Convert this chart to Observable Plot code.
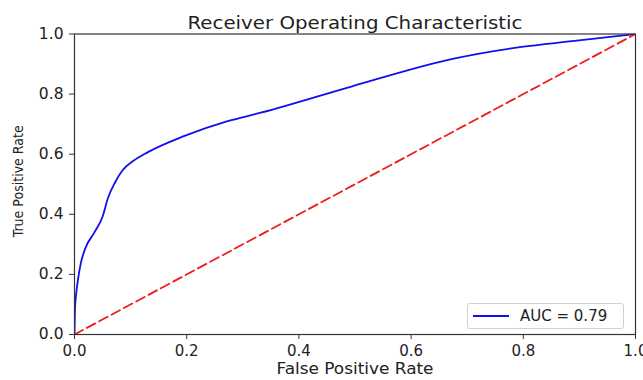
<!DOCTYPE html>
<html>
<head>
<meta charset="utf-8">
<script src="https://cdn.jsdelivr.net/npm/d3@7"></script>
<script src="https://cdn.jsdelivr.net/npm/@observablehq/plot@0.6"></script>
<style>
  html, body { margin: 0; padding: 0; background: #fff; }
  #wrap { position: relative; width: 643px; height: 380px; font-family: "DejaVu Sans", sans-serif; }
  #legend { position: absolute; left: 467px; top: 303px; width: 157px; height: 26px; box-sizing: border-box;
            border: 1px solid #d0d0d0; border-radius: 3px; background: rgba(255,255,255,0.85);
            display: flex; align-items: center; font-size: 15px; color: #222; }
  #legend svg { margin-left: 5px; margin-right: 11px; }
</style>
</head>
<body>
<div id="wrap"></div>
<script>
// Data
const fpr = [0, 0.001, 0.003, 0.006, 0.011, 0.02, 0.035, 0.05, 0.06, 0.072, 0.085, 0.105, 0.13, 0.195, 0.273, 0.332, 0.495, 0.676, 0.797, 0.887, 1];
const tpr = [0, 0.09, 0.135, 0.18, 0.235, 0.29, 0.338, 0.392, 0.456, 0.505, 0.545, 0.578, 0.606, 0.66, 0.71, 0.738, 0.826, 0.918, 0.957, 0.976, 1];
const chanceX = [0, 1];
const chanceY = [0, 1];
const xTicks = [0, 0.2, 0.4, 0.6, 0.8, 1.0];
const yTicks = [0, 0.2, 0.4, 0.6, 0.8, 1.0];
const titleText = "Receiver Operating Characteristic";
const xLabel = "False Positive Rate";
const yLabel = "True Positive Rate";
const legendLabel = "AUC = 0.79";

const roc = fpr.map((x, i) => ({x, y: tpr[i]}));
const chance = chanceX.map((x, i) => ({x, y: chanceY[i]}));

const chart = Plot.plot({
  width: 643,
  height: 380,
  marginLeft: 74,
  marginRight: 8,
  marginTop: 33.5,
  marginBottom: 46,
  style: { fontFamily: "DejaVu Sans, sans-serif", fontSize: "15px", color: "#222", background: "#fff" },
  x: { domain: [0, 1] },
  y: { domain: [0, 1] },
  marks: [
    Plot.line(roc, { x: "x", y: "y", stroke: "#1010ee", strokeWidth: 1.8, curve: "monotone-x", clip: true }),
    Plot.line(chance, { x: "x", y: "y", stroke: "#ee1c1c", strokeWidth: 1.8, strokeDasharray: "9.5,4.5", clip: true }),
    Plot.frame({ stroke: "#333", strokeWidth: 1.2 }),
    Plot.axisX({ ticks: xTicks, tickFormat: d3.format(".1f"), tickSize: 5, tickPadding: 6, fontSize: 15,
                 label: null, stroke: "#333" }),
    Plot.axisY({ ticks: yTicks, tickFormat: d3.format(".1f"), tickSize: 5, tickPadding: 6, fontSize: 15.5,
                 label: null, stroke: "#333" }),
    Plot.text([xLabel], { frameAnchor: "bottom", dy: 39, fontSize: 15.5, fill: "#222" }),
    Plot.text([yLabel], { frameAnchor: "left", textAnchor: "middle", dx: -56, dy: -3, rotate: -90, fontSize: 14, fontFamily: "DejaVu Sans Condensed, DejaVu Sans, sans-serif", fill: "#222" }),
    Plot.text([titleText], { frameAnchor: "top", dy: -17, fontSize: 17, fill: "#222" })
  ]
});

// The reference's text is slightly stretched horizontally; match widths.
d3.select(chart).selectAll("text").each(function () {
  const t = this.textContent;
  if (t === titleText) { this.setAttribute("textLength", 335); this.setAttribute("lengthAdjust", "spacingAndGlyphs"); }
  if (t === xLabel) { this.setAttribute("textLength", 157); this.setAttribute("lengthAdjust", "spacingAndGlyphs"); }
});

const wrap = document.getElementById("wrap");
wrap.appendChild(chart);

const legend = document.createElement("div");
legend.id = "legend";
legend.innerHTML = `<svg width="36" height="10"><line x1="0" y1="5" x2="36" y2="5" stroke="#1010ee" stroke-width="1.8"/></svg><span></span>`;
legend.querySelector("span").textContent = legendLabel;
wrap.appendChild(legend);
</script>
</body>
</html>
